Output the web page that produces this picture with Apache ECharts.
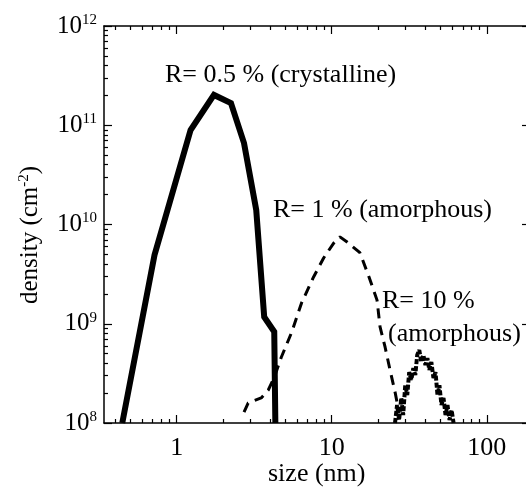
<!DOCTYPE html>
<html>
<head>
<meta charset="utf-8">
<script src="https://cdn.jsdelivr.net/npm/echarts@6/dist/echarts.min.js"></script>
<style>
html,body{margin:0;padding:0;background:#fff;}
#c{width:526px;height:494px;}
</style>
</head>
<body>
<div id="c"></div>
<script>
// Data (size in nm, density in cm^-2)
const solidX = [0.446, 0.72, 1.23, 1.74, 2.24, 2.72, 3.26, 3.67, 4.26, 4.33];
const solidY = [1.0e8, 4.93e9, 8.96e10, 2.02e11, 1.67e11, 6.6e10, 1.40e10, 1.17e9, 8.3e8, 1.0e8];

const dashX = [2.72, 2.89, 3.51, 3.9, 4.27, 4.73, 5.5, 6.39, 7.64, 8.87, 10.3, 11.3, 12.5, 15.2, 17.4, 19.6, 20.5, 22.1, 23.8, 25.7, 27.2];
const dashY = [1.29e8, 1.59e8, 1.79e8, 2.15e8, 2.9e8, 4.6e8, 8.1e8, 1.62e9, 2.96e9, 4.6e9, 6.5e9, 7.5e9, 6.7e9, 5.2e9, 2.96e9, 1.73e9, 9.3e8, 5.8e8, 3.4e8, 2.0e8, 1.26e8];

const noisyX = [25.6, 26.4, 27.2, 28.1, 28.9, 29.8, 30.7, 31.6, 32.6, 33.6, 34.6, 35.6, 36.7, 37.8, 39.0, 40.2, 41.4, 42.6, 43.9, 45.3, 46.7, 48.1, 49.5, 51.0, 52.6, 54.2, 55.8, 57.5, 59.3, 61.1];
const noisyY = [1.0e8, 1.52e8, 1.07e8, 1.79e8, 1.2e8, 2.41e8, 1.91e8, 3.26e8, 2.71e8, 3.58e8, 3.05e8, 4.84e8, 5.44e8, 4.12e8, 4.84e8, 3.84e8, 4.52e8, 3.42e8, 4.12e8, 2.84e8, 3.26e8, 1.91e8, 2.41e8, 1.52e8, 1.79e8, 1.2e8, 1.52e8, 1.07e8, 1.35e8, 1.0e8];

const xMajor = [1, 10, 100];
const xMinor = [0.4, 0.5, 0.6, 0.7, 0.8, 0.9, 2, 3, 4, 5, 6, 7, 8, 9, 20, 30, 40, 50, 60, 70, 80, 90];
const yMajor = [1e8, 1e9, 1e10, 1e11, 1e12];
const yMinor = [2e8,3e8,4e8,5e8,6e8,7e8,8e8,9e8, 2e9,3e9,4e9,5e9,6e9,7e9,8e9,9e9, 2e10,3e10,4e10,5e10,6e10,7e10,8e10,9e10, 2e11,3e11,4e11,5e11,6e11,7e11,8e11,9e11];

const labels = {
  crystalline: 'R= 0.5 % (crystalline)',
  amorph1: 'R= 1 % (amorphous)',
  amorph10a: 'R= 10 %',
  amorph10b: '(amorphous)',
  xName: 'size (nm)'
};

const FONT = '"Liberation Serif", "DejaVu Serif", serif';
const X_MIN = 0.34, X_MAX = 190, Y_MIN = 1e8, Y_MAX = 1e12;

function pairs(xs, ys){ return xs.map((x,i)=>[x, ys[i]]); }

function xAxisDef(pos, major, showLine, showLabel){
  return {
    type: 'log', logBase: 10, gridIndex: 0, position: pos, min: X_MIN, max: X_MAX,
    axisLine: {show: showLine, onZero: false, lineStyle: {color: '#000', width: 1.5}},
    axisTick: {show: true, inside: true, length: major ? 8 : 4, customValues: major ? xMajor : xMinor, lineStyle: {color: '#000', width: 1.2}},
    axisLabel: {show: showLabel, customValues: xMajor, margin: 12, color: '#000', fontFamily: FONT, fontSize: 26,
      formatter: v => String(Math.round(v))},
    splitLine: {show: false}, minorTick: {show: false}
  };
}
function yAxisDef(pos, major, showLine, showLabel){
  return {
    type: 'log', logBase: 10, gridIndex: 0, position: pos, min: Y_MIN, max: Y_MAX,
    axisLine: {show: showLine, onZero: false, lineStyle: {color: '#000', width: 1.5}},
    axisTick: {show: true, inside: true, length: major ? 8 : 4, customValues: major ? yMajor : yMinor, lineStyle: {color: '#000', width: 1.2}},
    axisLabel: {show: showLabel, customValues: yMajor, margin: 7, color: '#000', fontFamily: FONT,
      formatter: v => '{b|10}{s|' + Math.round(Math.log10(v)) + '}',
      rich: {
        b: {fontSize: 25, fontFamily: FONT, color: '#000'},
        s: {fontSize: 15, fontFamily: FONT, color: '#000', verticalAlign: 'top', padding: [0,0,12,0]}
      }},
    splitLine: {show: false}, minorTick: {show: false}
  };
}

const chart = echarts.init(document.getElementById('c'), null, {renderer: 'canvas'});
chart.setOption({
  backgroundColor: '#fff',
  animation: false,
  grid: {left: 104, top: 26, width: 426, height: 397, containLabel: false, outerBoundsMode: 'none'},
  xAxis: [
    xAxisDef('bottom', true, true, true),
    xAxisDef('bottom', false, false, false),
    xAxisDef('top', true, true, false),
    xAxisDef('top', false, false, false)
  ],
  yAxis: [
    yAxisDef('left', true, true, true),
    yAxisDef('left', false, false, false),
    yAxisDef('right', true, true, false),
    yAxisDef('right', false, false, false)
  ],
  series: [
    {type: 'line', xAxisIndex: 0, yAxisIndex: 0, data: pairs(solidX, solidY), symbol: 'none',
      lineStyle: {color: '#000', width: 6, join: 'miter'}, clip: true},
    {type: 'line', xAxisIndex: 0, yAxisIndex: 0, data: pairs(dashX, dashY), symbol: 'none',
      lineStyle: {color: '#000', width: 3, type: [10, 7]}, clip: true},
    {type: 'line', xAxisIndex: 0, yAxisIndex: 0, data: pairs(noisyX, noisyY), symbol: 'none',
      lineStyle: {color: '#000', width: 4, type: [5, 2]}, clip: true}
  ],
  graphic: [
    {type: 'text', left: 165, top: 62, style: {text: labels.crystalline, font: '26px ' + FONT, fill: '#000'}},
    {type: 'text', left: 273, top: 197, style: {text: labels.amorph1, font: '26px ' + FONT, fill: '#000'}},
    {type: 'text', left: 382, top: 288, style: {text: labels.amorph10a, font: '26px ' + FONT, fill: '#000'}},
    {type: 'text', left: 388, top: 321, style: {text: labels.amorph10b, font: '26px ' + FONT, fill: '#000'}},
    {type: 'text', left: 268, top: 461, style: {text: labels.xName, font: '26px ' + FONT, fill: '#000'}},
    {type: 'text', x: 30, y: 235, rotation: Math.PI / 2,
      style: {text: '{a|density (cm}{s|-2}{a|)}', align: 'center', verticalAlign: 'middle',
        rich: {
          a: {fontSize: 25, fontFamily: FONT, fill: '#000', color: '#000'},
          s: {fontSize: 15, fontFamily: FONT, fill: '#000', color: '#000', verticalAlign: 'top', padding: [0,0,12,0]}
        }}}
  ]
});
</script>
</body>
</html>
